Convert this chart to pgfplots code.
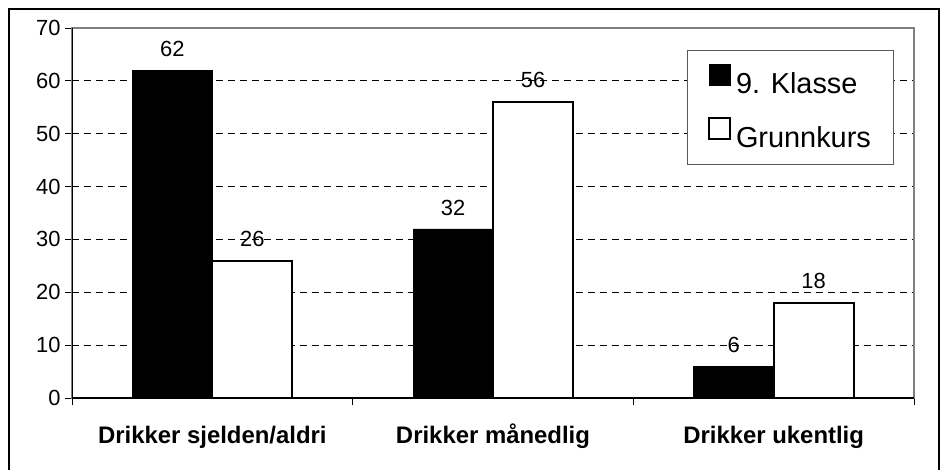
\documentclass[border=0pt]{standalone}
\usepackage{fontspec}
\setmainfont{Liberation Sans}
\usepackage{pgfplots}
\pgfplotsset{compat=1.18}
\begin{document}
\begin{tikzpicture}
\useasboundingbox (-72bp,-72bp) rectangle (869bp,398bp);
\begin{axis}[
  at={(0,0)}, anchor=south west,
  scale only axis, width=842bp, height=370bp,
  ybar=0pt, bar width=80bp,
  ymin=0, ymax=70, ytick={0,10,...,70},
  xmin=-0.5, xmax=2.5,
  xtick={-0.5,0.5,1.5,2.5}, xticklabels={,,,},
  extra x ticks={0,1,2},
  extra x tick labels={Drikker sjelden/aldri,Drikker månedlig,Drikker ukentlig},
  extra x tick style={major tick length=0pt, grid=none},
  xticklabel style={font=\fontsize{24}{28}\selectfont\bfseries, text height=18bp, text depth=6bp, yshift=-24bp},
  yticklabel style={font=\fontsize{22}{26}\selectfont, xshift=-1bp},
  /pgf/number format/assume math mode=true,
  tick pos=left, tick align=outside, major tick length=7bp,
  tick style={black, line width=1bp},
  axis line style={draw=gray, line width=2bp},
  ymajorgrids, major grid style={black, line width=0.8bp, dash pattern=on 7bp off 5bp},
  nodes near coords,
  every node near coord/.append style={font=\fontsize{22}{26}\selectfont, inner sep=0pt, yshift=13bp},
  legend style={at={(rel axis cs:0.730,0.9405)}, anchor=north west,
    draw=gray!70!black, line width=1.2bp, fill=white,
    font=\fontsize{29}{34}\selectfont, inner xsep=21bp, inner ysep=13bp,
    row sep=20bp, nodes={inner sep=2bp}},
  legend cell align=left,
]
\addplot[fill=black, draw=black,
  legend image code/.code={\draw[fill=black, draw=black, line width=1bp] (0bp,-1bp) rectangle (21bp,20bp); \path[draw=none, fill=none] (0bp,0bp) -- (25bp,0bp);}]
  coordinates {(0,62) (1,32) (2,6)};
\addplot[fill=white, draw=black, line width=2bp,
  legend image code/.code={\draw[fill=white, draw=black, line width=1.5bp] (0bp,-1bp) rectangle (21bp,20bp); \path[draw=none, fill=none] (0bp,0bp) -- (25bp,0bp);}]
  coordinates {(0,26) (1,56) (2,18)};
\legend{9. Klasse,Grunnkurs}
\draw[black, line width=2bp] (rel axis cs:0,1) -- (rel axis cs:0,0) -- (rel axis cs:1,0);
\end{axis}
\draw[black, line width=1.5bp] (-63bp,-90bp) -- (-63bp,389bp) -- (867bp,389bp) -- (867bp,-90bp);
\end{tikzpicture}
\end{document}
